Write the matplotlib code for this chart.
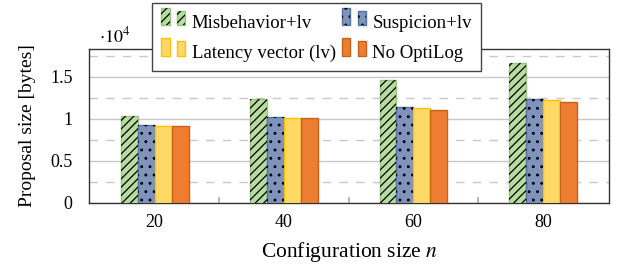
import numpy as np
import matplotlib
matplotlib.use("Agg")
import matplotlib.pyplot as plt
from matplotlib.legend_handler import HandlerBase
from matplotlib.patches import Rectangle
from matplotlib.ticker import FuncFormatter, MultipleLocator

# data (bytes)
sizes = [20, 40, 60, 80]
series = ["Misbehavior+lv", "Suspicion+lv", "Latency vector (lv)", "No OptiLog"]
misbehavior = [10320, 12340, 14600, 16600]
suspicion = [9250, 10200, 11360, 12310]
latency = [9180, 10120, 11270, 12230]
no_optilog = [9170, 10050, 11070, 11990]

fills = ["#b8dba0", "#7f93bd", "#ffd966", "#ed7d31"]
edges = ["#98c47c", "#4f74a6", "#ffc000", "#c9601c"]
hatches = ["////", "..", None, None]

plt.rcParams["font.family"] = "Liberation Serif"
plt.rcParams["mathtext.fontset"] = "stix"
plt.rcParams["hatch.linewidth"] = 0.9


class TwoBars(HandlerBase):
    # pgfplots style legend image: two small bars
    def create_artists(self, legend, orig, xd, yd, width, height, fontsize, trans):
        arts = []
        bw = width * 0.34
        for i, frac in enumerate([1.0, 0.82]):
            x0 = xd + i * (width - bw)
            base = Rectangle((x0, yd), bw, height * frac,
                             facecolor=orig.get_facecolor(), edgecolor=orig.get_edgecolor(),
                             linewidth=1.0, transform=trans)
            arts.append(base)
            if orig.get_hatch():
                h = Rectangle((x0, yd), bw, height * frac, facecolor="none",
                              edgecolor="black", linewidth=0, hatch=orig.get_hatch(),
                              transform=trans)
                arts.append(h)
        return arts


fig = plt.figure(figsize=(6.2, 2.67), dpi=100)
ax = fig.add_axes([0.144, 0.241, 0.838, 0.574])

values = [misbehavior, suspicion, latency, no_optilog]
bw = 2.62
x = np.array(sizes, dtype=float)
proxies = []
for i, vals in enumerate(values):
    pos = x + (i - 1.5) * bw
    ax.bar(pos, vals, width=bw, color=fills[i], edgecolor=edges[i], linewidth=1.0, zorder=3)
    if hatches[i]:
        ax.bar(pos, vals, width=bw, facecolor="none", edgecolor="black", linewidth=0,
               hatch=hatches[i], zorder=4)
    proxies.append(Rectangle((0, 0), 1, 1, facecolor=fills[i], edgecolor=edges[i],
                             hatch=hatches[i], label=series[i]))

ax.set_xlim(9.9, 90.2)
ax.set_ylim(0, 18260)
ax.set_xticks(sizes)
ax.set_xticks([30, 50, 70], minor=True)
ax.tick_params(axis="x", which="major", length=0, labelsize=13, pad=8)
ax.tick_params(axis="x", which="minor", length=4, direction="in", color="#aaaaaa", width=1.2)
ax.yaxis.set_major_locator(MultipleLocator(5000))
ax.yaxis.set_minor_locator(MultipleLocator(2500))
ax.yaxis.set_major_formatter(FuncFormatter(lambda v, p: f"{v / 1e4:g}"))
ax.tick_params(axis="y", which="both", length=0, labelsize=13, pad=12)
ax.grid(axis="y", which="major", color="#c8c8c8", linewidth=1.0, zorder=0)
ax.grid(axis="y", which="minor", color="#c8c8c8", linewidth=1.0, linestyle=(0, (6, 6)), zorder=0)
ax.set_axisbelow(True)
for s in ax.spines.values():
    s.set_color("#333333")
    s.set_linewidth(1.0)

ax.text(0.018, 1.02, r"$\cdot 10^4$", transform=ax.transAxes, ha="left", va="bottom", fontsize=13)
ax.set_ylabel("Proposal size [bytes]", fontsize=14, labelpad=10)
ax.set_xlabel(r"Configuration size $n$", fontsize=15.5, labelpad=7)

# legend fills column by column, reorder so rows read like the original
order = [0, 2, 1, 3]
leg = ax.legend(handles=[proxies[k] for k in order], ncol=2, loc="upper left",
                bbox_to_anchor=(152 / 620, 1 - 3 / 267), bbox_transform=fig.transFigure,
                handler_map={Rectangle: TwoBars()}, fontsize=13.5, frameon=True,
                fancybox=False, framealpha=1, edgecolor="#444444",
                handlelength=1.28, handleheight=1.07, handletextpad=0.35,
                columnspacing=0.3, borderpad=0.5, labelspacing=0.6, borderaxespad=0)
leg.get_frame().set_linewidth(1.0)
leg.set_zorder(10)

fig.savefig("out.png", dpi=100)
